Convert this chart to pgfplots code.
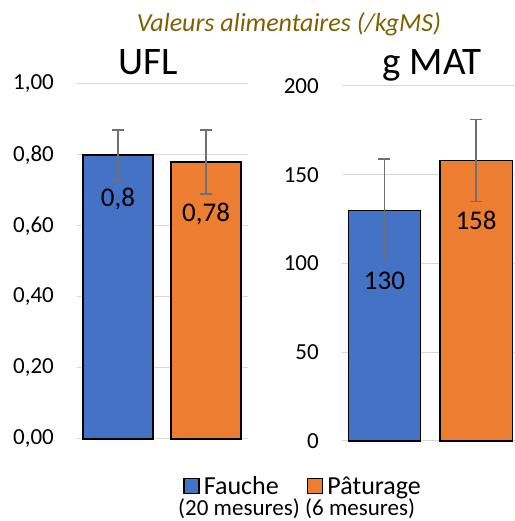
\documentclass[border=0pt]{standalone}
\usepackage{pgfplots}
\pgfplotsset{compat=1.18}
\usepackage{fontspec}
\setmainfont{Carlito}
\definecolor{cblue}{HTML}{4472C4}
\definecolor{corange}{HTML}{ED7D31}
\definecolor{cgrid}{HTML}{D9D9D9}
\definecolor{cerr}{HTML}{707070}
\definecolor{ctitle}{HTML}{7F6000}
\newcommand{\fs}[1]{\fontsize{#1}{1.2\dimexpr#1\relax}\selectfont}
\pgfplotsset{
  panel/.style={
    scale only axis, anchor=south west, height=355bp,
    axis line style={draw=none}, xtick=\empty,
    major tick length=0pt, ymajorgrids,
    grid style={color=cgrid, line width=1bp},
    /pgf/number format/assume math mode=true,
    yticklabel style={font=\fs{23bp}, inner sep=0pt, xshift=-23bp},
    clip=false,
  },
  mybar/.style={ybar, bar shift=0pt, draw=black, line width=1.3bp, fill=#1,
    error bars/y dir=both, error bars/y explicit,
    error bars/error bar style={color=cerr, line width=1.5bp},
    error bars/error mark options={color=cerr, line width=1.5bp, mark size=6bp, rotate=90}},
  lbl/.style={draw=none, mark=none, forget plot, nodes near coords,
    point meta=explicit symbolic,
    nodes near coords style={anchor=base, inner sep=0pt, font=\fs{27bp}, text=black}},
  sq/.style={legend image code/.code={\path[draw=none, fill=none] (0bp,0bp) -- (20bp,0bp);\draw[fill=#1, draw=black, line width=1.3bp] (0bp,-7bp) rectangle (15bp,8bp);}},
}
\begin{document}
\begin{tikzpicture}[x=1bp,y=1bp]
\useasboundingbox (0,0) rectangle (515,521);
\node[anchor=base, inner sep=0pt, font=\fs{26bp}\itshape, text=ctitle] at (289,489) {Valeurs alimentaires (/kgMS)};
\begin{axis}[panel, at={(77bp,82bp)}, width=171bp,
  xmin=-0.466, xmax=1.477, ymin=0, ymax=1,
  ytick={0,0.2,0.4,0.6,0.8,1},
  y tick label style={/pgf/number format/fixed, /pgf/number format/fixed zerofill, /pgf/number format/precision=2, /pgf/number format/use comma},
  title={UFL},
  every axis title/.style={at={(0.415,1)}, anchor=base, yshift=9bp, inner sep=0pt, font=\fs{39bp}},
  legend columns=2,
  legend style={draw=none, fill=none, at={(0.62,-0.134)}, anchor=west, inner sep=0pt,
    nodes={inner sep=0pt, font=\fs{26bp}},
    /tikz/every even column/.append style={column sep=28bp}},
]
\addplot[mybar=cblue, bar width=0.795, sq=cblue] coordinates {(0,0.80) +- (0,0.07)};
\addlegendentry{Fauche}
\addplot[mybar=corange, bar width=0.795, sq=corange] coordinates {(1,0.78) +- (0,0.09)};
\addlegendentry{Pâturage}
\addplot[lbl] coordinates {(0,0.656) [0,8] (1,0.614) [0,78]};
\end{axis}
\begin{axis}[panel, at={(342bp,80bp)}, width=176.5bp,
  xmin=-0.464, xmax=1.464, ymin=0, ymax=200,
  ytick={0,50,100,150,200},
  title={g MAT},
  every axis title/.style={at={(0.51,1)}, anchor=base, yshift=11bp, inner sep=0pt, font=\fs{39bp}},
]
\addplot[mybar=cblue, bar width=0.79] coordinates {(0,130) +- (0,29)};
\addplot[mybar=corange, bar width=0.79] coordinates {(1,158) +- (0,23)};
\addplot[lbl] coordinates {(0,85.6) [130] (1,119.4) [158]};
\end{axis}
\node[anchor=base west, inner sep=0pt, font=\fs{23bp}] at (178,5) {(20 mesures)};
\node[anchor=base west, inner sep=0pt, font=\fs{23bp}] at (305,5) {(6 mesures)};
\end{tikzpicture}
\end{document}
